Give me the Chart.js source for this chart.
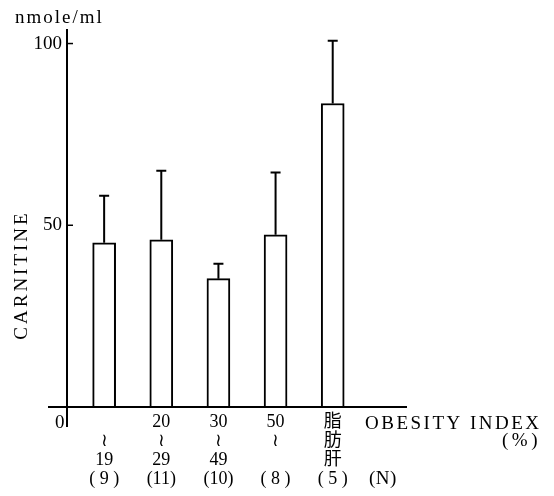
<!DOCTYPE html>
<html lang="ja">
<head>
  <meta charset="UTF-8">
  <title>Carnitine by obesity index</title>
  <script src="https://cdn.jsdelivr.net/npm/chart.js"></script>
  <style>
    body { margin: 0; background: #fff; }
    canvas { display: block; }
  </style>
</head>
<body>
<canvas id="grafik" width="554" height="496"></canvas>
<script>
  // data
  const xPos = [1, 2, 3, 4, 5];
  const xLabels = [
    ['', '≀', '19', '( 9 )'],
    ['20', '≀', '29', '(11)'],
    ['30', '≀', '49', '(10)'],
    ['50', '≀', '', '( 8 )'],
    ['脂', '肪', '肝', '( 5 )']
  ];
  const means = [45.2, 46.0, 35.3, 47.4, 83.5];
  const sd = [12.9, 19.0, 4.1, 17.1, 17.3];
  const yTicks = [50, 100];

  const serif = "'Liberation Serif', 'Noto Sans CJK JP', serif";

  const hiasan = {
    id: 'hiasan',
    afterDatasetsDraw(chart) {
      const ctx = chart.ctx;
      const xs = chart.scales.x, ys = chart.scales.y;
      const y0 = ys.getPixelForValue(0);
      const left = chart.chartArea.left;
      ctx.save();
      ctx.strokeStyle = '#000';
      ctx.lineWidth = 2;
      // axes
      ctx.beginPath();
      ctx.moveTo(left - 19, y0);
      ctx.lineTo(chart.chartArea.right, y0);
      ctx.moveTo(left, chart.chartArea.top);
      ctx.lineTo(left, y0 + 20);
      ctx.stroke();
      // inward ticks
      ctx.lineWidth = 1.5;
      yTicks.forEach(v => {
        const py = ys.getPixelForValue(v);
        ctx.beginPath();
        ctx.moveTo(left, py);
        ctx.lineTo(left + 6, py);
        ctx.stroke();
      });
      // error bars
      ctx.lineWidth = 2;
      means.forEach((m, i) => {
        const px = xs.getPixelForValue(xPos[i]);
        const top = ys.getPixelForValue(m + sd[i]);
        const bot = ys.getPixelForValue(m);
        ctx.beginPath();
        ctx.moveTo(px, bot);
        ctx.lineTo(px, top);
        ctx.moveTo(px - 5, top);
        ctx.lineTo(px + 5, top);
        ctx.stroke();
      });
      // texts
      ctx.fillStyle = '#000';
      ctx.font = '19px ' + serif;
      ctx.textBaseline = 'alphabetic';
      ctx.letterSpacing = '2px';
      ctx.textAlign = 'left';
      ctx.fillText('nmole/ml', 15, 23);
      ctx.fillText('0', 55, 428);
      ctx.letterSpacing = '2.5px';
      ctx.fillText('OBESITY INDEX', 365, 429);
      ctx.letterSpacing = '3.5px';
      ctx.textAlign = 'right';
      ctx.fillText('(%)', 541, 446);
      ctx.letterSpacing = '0.5px';
      ctx.textAlign = 'left';
      ctx.fillText('(N)', 369, 484);
      // y title
      ctx.save();
      ctx.translate(27, 275);
      ctx.rotate(-Math.PI / 2);
      ctx.textAlign = 'center';
      ctx.letterSpacing = '3px';
      ctx.font = '19px ' + serif;
      ctx.fillText('CARNITINE', 0, 0);
      ctx.restore();
      ctx.restore();
    }
  };

  new Chart(document.getElementById('grafik'), {
    type: 'bar',
    data: {
      datasets: [{
        data: xPos.map((x, i) => ({ x: x, y: means[i] })),
        backgroundColor: '#fff',
        borderColor: '#000',
        borderWidth: 2,
        barThickness: 23
      }]
    },
    options: {
      responsive: false,
      animation: false,
      layout: { padding: { top: 29, right: 147, left: 0, bottom: 0 } },
      plugins: { legend: { display: false }, tooltip: { enabled: false } },
      scales: {
        x: {
          type: 'linear',
          offset: false,
          min: 0.35,
          max: 6.3,
          grid: { display: false, drawTicks: false },
          border: { display: false },
          afterBuildTicks: s => { s.ticks = xPos.map(v => ({ value: v })); },
          afterFit: s => { s.height = 89; },
          ticks: {
            autoSkip: false,
            maxRotation: 0,
            padding: 6,
            color: '#000',
            font: { family: serif, size: 18, lineHeight: '19px' },
            callback: (v, i) => xLabels[i]
          }
        },
        y: {
          min: 0,
          max: 104,
          grid: { display: false, drawTicks: false },
          border: { display: false },
          afterBuildTicks: s => { s.ticks = yTicks.map(v => ({ value: v })); },
          afterFit: s => { s.width = 67; },
          ticks: {
            padding: 5,
            color: '#000',
            font: { family: serif, size: 19 }
          }
        }
      }
    },
    plugins: [hiasan]
  });
</script>
</body>
</html>
